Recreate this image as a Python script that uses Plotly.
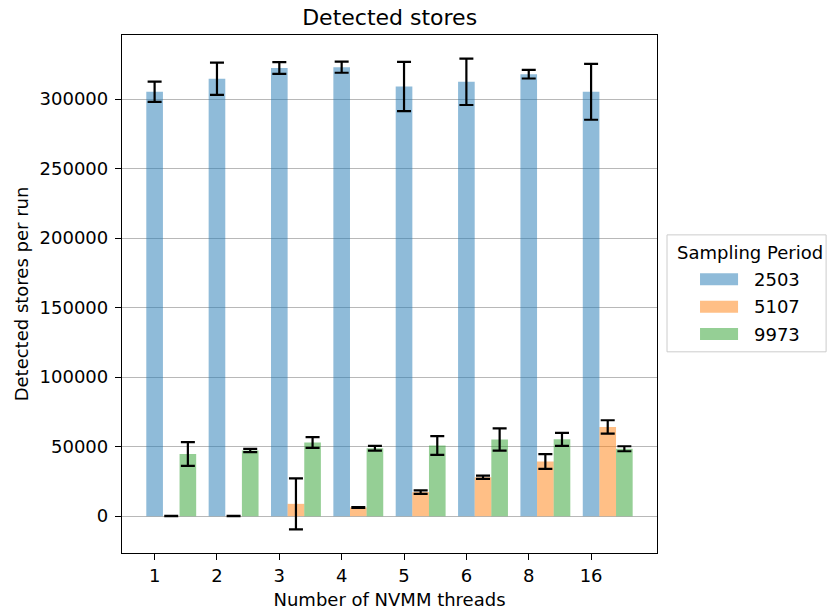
import plotly.graph_objects as go

# Thread counts on the x axis and the three sampling periods
threads = ["1", "2", "3", "4", "5", "6", "8", "16"]
periods = ["2503", "5107", "9973"]

# Mean detected stores per run and the standard deviation for each period
stores_2503 = [305300, 314700, 322400, 322950, 309100, 312450, 317900, 305250]
err_2503 = [7300, 11600, 4200, 4000, 17700, 16700, 3100, 20100]

stores_5107 = [100, 100, 8850, 6300, 17300, 28000, 39300, 64200]
err_5107 = [100, 100, 18400, 300, 1200, 1200, 5300, 4800]

stores_9973 = [44700, 47200, 52950, 48900, 50800, 55200, 55250, 48500]
err_9973 = [8600, 1200, 3850, 1700, 6700, 8000, 4650, 1800]

y_ticks = [0, 50000, 100000, 150000, 200000, 250000, 300000]

means = [stores_2503, stores_5107, stores_9973]
errors = [err_2503, err_5107, err_9973]
colors = ["rgba(31,119,180,0.5)", "rgba(255,127,14,0.5)", "rgba(44,160,44,0.5)"]

FONT = "DejaVu Sans"
W, H = 827, 611
L, R, T, B = 122.3, 657.0, 35.0, 553.3   # plot area in pixels

bar_w = 0.8 / 3
pos = list(range(len(threads)))

fig = go.Figure()
for k, (name, m, e, c) in enumerate(zip(periods, means, errors, colors)):
    fig.add_trace(go.Bar(
        x=[p + k * bar_w for p in pos],
        y=m,
        width=bar_w,
        name=name,
        marker=dict(color=c, line=dict(width=0)),
        error_y=dict(type="data", array=e, visible=True, color="black",
                     thickness=2.2, width=7),
        showlegend=False,
    ))


def px_x(v):
    return (v - L) / (R - L)


def px_y(v):
    return (B - v) / (B - T)


# Legend box drawn by hand so the swatches are wide like the original style
shapes = [dict(type="rect", xref="paper", yref="paper",
               x0=px_x(667), x1=px_x(826), y0=px_y(352), y1=px_y(235),
               line=dict(color="#cccccc", width=1), fillcolor="white",
               layer="above")]
annotations = [dict(text="Sampling Period", xref="paper", yref="paper",
                    x=px_x(750), y=px_y(253), xanchor="center", yanchor="middle",
                    showarrow=False, font=dict(family=FONT, size=18, color="black"))]
row_y = [279.5, 306.8, 334.2]
for name, c, ry in zip(periods, colors, row_y):
    shapes.append(dict(type="rect", xref="paper", yref="paper",
                       x0=px_x(700), x1=px_x(738), y0=px_y(ry + 6), y1=px_y(ry - 6),
                       line=dict(width=0), fillcolor=c, layer="above"))
    annotations.append(dict(text=name, xref="paper", yref="paper",
                            x=px_x(752), y=px_y(ry), xanchor="left", yanchor="middle",
                            showarrow=False,
                            font=dict(family=FONT, size=18, color="black")))

fig.update_layout(
    width=W, height=H,
    margin=dict(l=L, r=W - R, t=T, b=H - B, autoexpand=False),
    plot_bgcolor="white", paper_bgcolor="white",
    font=dict(family=FONT, size=18, color="black"),
    barmode="overlay",
    title=dict(text="Detected stores", x=(L + R) / 2 / W, xanchor="center",
               y=1 - 17 / H, yanchor="middle", yref="container",
               font=dict(family=FONT, size=22, color="black")),
    shapes=shapes,
    annotations=annotations,
    showlegend=False,
)

fig.update_xaxes(
    range=[-0.523, 8.057],
    tickmode="array", tickvals=pos, ticktext=threads,
    showgrid=False, zeroline=False,
    showline=True, mirror=True, linecolor="black", linewidth=1.3,
    ticks="outside", ticklen=6, tickwidth=1.3, tickcolor="black",
    title=dict(text="Number of NVMM threads", standoff=8,
               font=dict(family=FONT, size=18)),
    tickfont=dict(family=FONT, size=18),
)
fig.update_yaxes(
    range=[-26500, 346100],
    tickmode="array", tickvals=y_ticks, tickformat="d",
    showgrid=True, gridcolor="#b8b8b8", gridwidth=1.3, zeroline=False,
    showline=True, mirror=True, linecolor="black", linewidth=1.3,
    ticks="outside", ticklen=6, tickwidth=1.3, tickcolor="black",
    ticklabelstandoff=3,
    title=dict(text="Detected stores per run", standoff=6,
               font=dict(family=FONT, size=18)),
    tickfont=dict(family=FONT, size=18),
)

fig.write_html("out.html")
